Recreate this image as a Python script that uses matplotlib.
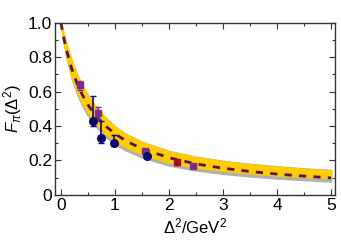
import numpy as np
import matplotlib
matplotlib.use("Agg")
from matplotlib import pyplot as plt
from matplotlib.ticker import MultipleLocator

plt.rcParams['font.family'] = ['Liberation Sans', 'DejaVu Sans']
plt.rcParams['mathtext.fontset'] = 'custom'
plt.rcParams['mathtext.rm'] = 'Liberation Sans'
plt.rcParams['mathtext.it'] = 'Liberation Sans:italic'

# curve samples
delta2 = [0, 0.05, 0.1, 0.2, 0.3, 0.4, 0.5, 0.6, 0.8, 1.0, 1.2, 1.5, 2, 2.5, 3, 3.5, 4, 4.5, 5]
f_dashed = [1, .917, .846, .733, .647, .579, .524, .478, .407, .355, .314, .268, .216, .180, .155, .136, .121, .109, .099]
band_hi = [1, .935, .875, .775, .695, .63, .575, .53, .455, .395, .352, .305, .252, .218, .194, .176, .162, .15, .14]
band_lo = [1, .90, .82, .695, .605, .535, .48, .435, .365, .315, .278, .238, .19, .162, .143, .127, .115, .106, .10]
gray_hi = [1, .937, .877, .777, .697, .632, .577, .532, .457, .397, .355, .308, .255, .222, .198, .18, .166, .154, .145]
gray_lo = [1, .89, .80, .675, .585, .515, .46, .415, .345, .295, .258, .218, .17, .142, .122, .107, .095, .086, .078]

# data points
navy_x = [0.59, 0.74, 0.99, 1.59]
navy_y = [0.43, 0.333, 0.30, 0.223]
navy_lo = [0.03, 0.03, 0.015, 0.01]
navy_hi = [0.145, 0.095, 0.05, 0.01]

purple_x = [0.35, 0.69, 1.56, 2.44]
purple_y = [0.635, 0.478, 0.252, 0.168]
purple_err = [0.025, 0.035, 0.015, 0.01]

red_x = [2.15]
red_y = [0.19]
red_err = [0.015]

fig = plt.figure(figsize=(3.41, 2.48), dpi=100)
ax = fig.add_axes([0.161, 0.214, 0.821, 0.695])

ax.fill_between(delta2, gray_lo, gray_hi, color='#b0b0b0', lw=1.0, zorder=1)
ax.fill_between(delta2, band_lo, band_hi, color='#ffcc00', edgecolor='#ffcc00', lw=1.5, zorder=2)
ax.plot(delta2, f_dashed, color='#4e1458', lw=2, dashes=(2.6, 2.6), zorder=3)

ax.errorbar(purple_x, purple_y, yerr=purple_err, fmt='s', color='#7b2d8e', ms=3.8,
            capsize=2, elinewidth=1.2, capthick=1, zorder=4)
ax.errorbar(red_x, red_y, yerr=red_err, fmt='s', color='#a01010', ms=3.8,
            capsize=2, elinewidth=1.2, capthick=1, zorder=4)
ax.errorbar(navy_x, navy_y, yerr=[navy_lo, navy_hi], fmt='o', color='#0a0a6e', ms=5.5,
            capsize=2, elinewidth=1.2, capthick=1, zorder=5)

ax.set_xlim(-0.11, 5.07)
ax.set_ylim(0, 1.0)
ax.xaxis.set_major_locator(MultipleLocator(1))
ax.xaxis.set_minor_locator(MultipleLocator(0.5))
ax.yaxis.set_minor_locator(MultipleLocator(0.1))
ax.set_yticks([0, 0.2, 0.4, 0.6, 0.8, 1.0])
ax.set_yticklabels(['0', '0.2', '0.4', '0.6', '0.8', '1.0'])
ax.tick_params(which='both', direction='in', top=True, right=True, labelsize=12.5,
               color='#333333', pad=2)
ax.tick_params(which='major', length=4, width=0.8)
ax.tick_params(which='minor', length=2.5, width=0.8)
for s in ax.spines.values():
    s.set_color('#333333')
    s.set_linewidth(1.0)

ax.set_xlabel(r'$\Delta^2$/GeV$^2$', fontsize=12, labelpad=3)
ax.set_ylabel(r'$F_\pi(\Delta^2)$', fontsize=12, labelpad=3)

fig.savefig('out.png', dpi=100)
